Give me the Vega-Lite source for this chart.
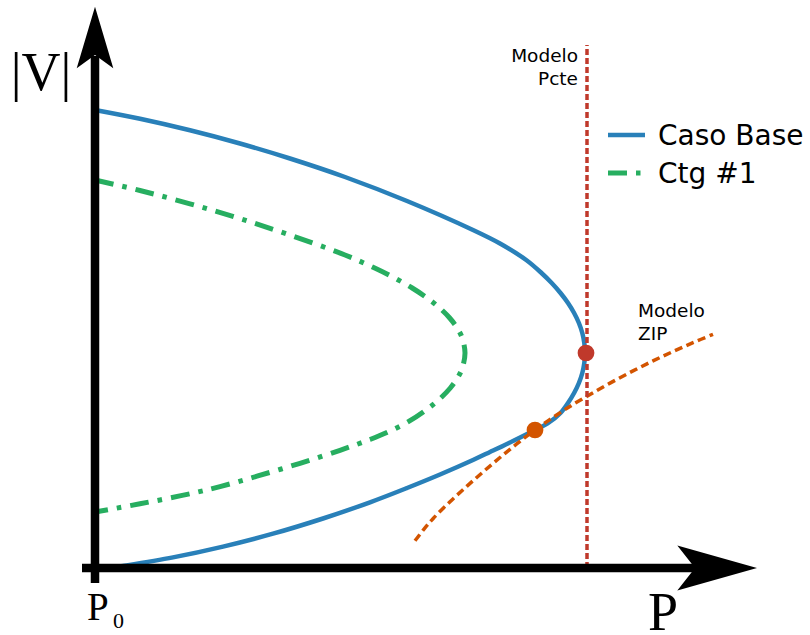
{
  "$schema": "https://vega.github.io/schema/vega-lite/v6.json",
  "width": 810,
  "height": 635,
  "padding": 0,
  "autosize": {"type": "none"},
  "background": "white",
  "config": {"view": {"stroke": null}},
  "datasets": {
    "base": [
      {"i": 0, "P": 0.000, "V": 4.580},
      {"i": 1, "P": 0.450, "V": 4.492},
      {"i": 2, "P": 0.950, "V": 4.377},
      {"i": 3, "P": 1.450, "V": 4.245},
      {"i": 4, "P": 1.950, "V": 4.095},
      {"i": 5, "P": 2.500, "V": 3.910},
      {"i": 6, "P": 3.120, "V": 3.670},
      {"i": 7, "P": 3.780, "V": 3.380},
      {"i": 8, "P": 4.050, "V": 3.245},
      {"i": 9, "P": 4.312, "V": 3.080},
      {"i": 10, "P": 4.465, "V": 2.950},
      {"i": 11, "P": 4.567, "V": 2.850},
      {"i": 12, "P": 4.655, "V": 2.750},
      {"i": 13, "P": 4.730, "V": 2.650},
      {"i": 14, "P": 4.791, "V": 2.550},
      {"i": 15, "P": 4.839, "V": 2.450},
      {"i": 16, "P": 4.873, "V": 2.350},
      {"i": 17, "P": 4.893, "V": 2.250},
      {"i": 18, "P": 4.900, "V": 2.150},
      {"i": 19, "P": 4.893, "V": 2.050},
      {"i": 20, "P": 4.873, "V": 1.950},
      {"i": 21, "P": 4.839, "V": 1.850},
      {"i": 22, "P": 4.791, "V": 1.750},
      {"i": 23, "P": 4.730, "V": 1.650},
      {"i": 24, "P": 4.655, "V": 1.550},
      {"i": 25, "P": 4.540, "V": 1.455},
      {"i": 26, "P": 4.400, "V": 1.380},
      {"i": 27, "P": 4.180, "V": 1.270},
      {"i": 28, "P": 3.950, "V": 1.160},
      {"i": 29, "P": 3.780, "V": 1.080},
      {"i": 30, "P": 3.450, "V": 0.935},
      {"i": 31, "P": 3.120, "V": 0.800},
      {"i": 32, "P": 2.750, "V": 0.657},
      {"i": 33, "P": 2.280, "V": 0.495},
      {"i": 34, "P": 1.780, "V": 0.343},
      {"i": 35, "P": 1.280, "V": 0.214},
      {"i": 36, "P": 0.780, "V": 0.106},
      {"i": 37, "P": 0.280, "V": 0.020},
      {"i": 38, "P": 0.170, "V": 0.003}
    ],
    "ctg": [
      {"i": 0, "P": 0.000, "V": 3.880},
      {"i": 1, "P": 0.450, "V": 3.775},
      {"i": 2, "P": 0.950, "V": 3.642},
      {"i": 3, "P": 1.450, "V": 3.494},
      {"i": 4, "P": 1.950, "V": 3.329},
      {"i": 5, "P": 2.500, "V": 3.130},
      {"i": 6, "P": 2.797, "V": 3.000},
      {"i": 7, "P": 2.997, "V": 2.900},
      {"i": 8, "P": 3.172, "V": 2.800},
      {"i": 9, "P": 3.322, "V": 2.700},
      {"i": 10, "P": 3.447, "V": 2.600},
      {"i": 11, "P": 3.547, "V": 2.500},
      {"i": 12, "P": 3.622, "V": 2.400},
      {"i": 13, "P": 3.672, "V": 2.300},
      {"i": 14, "P": 3.700, "V": 2.150},
      {"i": 15, "P": 3.673, "V": 2.000},
      {"i": 16, "P": 3.625, "V": 1.900},
      {"i": 17, "P": 3.553, "V": 1.800},
      {"i": 18, "P": 3.457, "V": 1.700},
      {"i": 19, "P": 3.337, "V": 1.600},
      {"i": 20, "P": 3.150, "V": 1.473},
      {"i": 21, "P": 2.950, "V": 1.369},
      {"i": 22, "P": 2.750, "V": 1.285},
      {"i": 23, "P": 2.450, "V": 1.177},
      {"i": 24, "P": 2.050, "V": 1.047},
      {"i": 25, "P": 1.620, "V": 0.918},
      {"i": 26, "P": 1.250, "V": 0.814},
      {"i": 27, "P": 0.950, "V": 0.742},
      {"i": 28, "P": 0.450, "V": 0.642},
      {"i": 29, "P": 0.000, "V": 0.560}
    ],
    "zip": [
      {"i": 0, "P": 3.20, "V": 0.272},
      {"i": 1, "P": 3.29, "V": 0.389},
      {"i": 2, "P": 3.38, "V": 0.493},
      {"i": 3, "P": 3.55, "V": 0.663},
      {"i": 4, "P": 3.72, "V": 0.819},
      {"i": 5, "P": 3.88, "V": 0.960},
      {"i": 6, "P": 4.05, "V": 1.105},
      {"i": 7, "P": 4.22, "V": 1.243},
      {"i": 8, "P": 4.40, "V": 1.380},
      {"i": 9, "P": 4.56, "V": 1.492},
      {"i": 10, "P": 4.72, "V": 1.598},
      {"i": 11, "P": 4.92, "V": 1.718},
      {"i": 12, "P": 5.15, "V": 1.849},
      {"i": 13, "P": 5.38, "V": 1.971},
      {"i": 14, "P": 5.58, "V": 2.071},
      {"i": 15, "P": 5.78, "V": 2.165},
      {"i": 16, "P": 5.98, "V": 2.253},
      {"i": 17, "P": 6.18, "V": 2.337}
    ]
  },
  "encoding": {
    "x": {"field": "P", "type": "quantitative", "axis": null, "scale": {"domain": [-0.95, 7.15], "nice": false, "zero": false}},
    "y": {"field": "V", "type": "quantitative", "axis": null, "scale": {"domain": [-0.67, 5.68], "nice": false, "zero": false}}
  },
  "layer": [
    {
      "data": {"name": "ctg"},
      "mark": {"type": "line", "color": "#27ae60", "strokeWidth": 5, "strokeDash": [19, 9, 4.5, 9], "interpolate": "catmull-rom", "strokeCap": "butt"},
      "encoding": {"order": {"field": "i", "type": "quantitative"}}
    },
    {
      "data": {"name": "base"},
      "mark": {"type": "line", "color": "#2980b9", "strokeWidth": 4.5, "interpolate": "catmull-rom"},
      "encoding": {"order": {"field": "i", "type": "quantitative"}}
    },
    {
      "data": {"name": "zip"},
      "mark": {"type": "line", "color": "#d35400", "strokeWidth": 3.5, "strokeDash": [8, 4.5], "interpolate": "catmull-rom"},
      "encoding": {"order": {"field": "i", "type": "quantitative"}}
    },
    {
      "data": {"values": [{"P": 4.92, "V": 0.0, "P2": 4.92, "V2": 5.23}]},
      "mark": {"type": "rule", "color": "#c0392b", "strokeWidth": 3.5, "strokeDash": [6, 3]},
      "encoding": {"x2": {"field": "P2"}, "y2": {"field": "V2"}}
    },
    {
      "data": {"values": [{"P": 4.91, "V": 2.15, "kind": "Pcte"}]},
      "mark": {"type": "point", "filled": true, "color": "#c0392b", "opacity": 1, "size": 280, "strokeWidth": 0}
    },
    {
      "data": {"values": [{"P": 4.40, "V": 1.38, "kind": "ZIP"}]},
      "mark": {"type": "point", "filled": true, "color": "#d35400", "opacity": 1, "size": 280, "strokeWidth": 0}
    },
    {
      "data": {"values": [
        {"P": 0.0, "V": -0.15, "P2": 0.0, "V2": 5.12},
        {"P": -0.13, "V": 0.0, "P2": 6.01, "V2": 0.0}
      ]},
      "mark": {"type": "rule", "color": "black", "strokeWidth": 8.5},
      "encoding": {"x2": {"field": "P2"}, "y2": {"field": "V2"}}
    },
    {
      "data": {"values": [{"P": 0.0, "V": 5.305}]},
      "mark": {"type": "point", "shape": "M0,-1L0.594,1L0,0.568L-0.594,1Z", "size": 3795, "filled": true, "color": "black", "opacity": 1, "strokeWidth": 0}
    },
    {
      "data": {"values": [{"P": 6.2215, "V": 0.0}]},
      "mark": {"type": "point", "shape": "M1,0L-1,-0.565L-0.556,0L-1,0.565Z", "size": 6352, "filled": true, "color": "black", "opacity": 1, "strokeWidth": 0}
    },
    {
      "data": {"values": [{"P": 5.13, "V": 4.33, "P2": 5.50, "V2": 4.33}]},
      "mark": {"type": "rule", "color": "#2980b9", "strokeWidth": 4.5},
      "encoding": {"x2": {"field": "P2"}, "y2": {"field": "V2"}}
    },
    {
      "data": {"values": [{"P": 5.13, "V": 3.95, "P2": 5.50, "V2": 3.95}]},
      "mark": {"type": "rule", "color": "#27ae60", "strokeWidth": 5, "strokeDash": [19, 9, 4.5, 9]},
      "encoding": {"x2": {"field": "P2"}, "y2": {"field": "V2"}}
    },
    {
      "data": {"values": [
        {"P": 5.63, "V": 4.23, "label": "Caso Base"},
        {"P": 5.63, "V": 3.85, "label": "Ctg #1"}
      ]},
      "mark": {"type": "text", "font": "DejaVu Sans", "fontSize": 28, "align": "left", "baseline": "alphabetic", "color": "black"},
      "encoding": {"text": {"field": "label"}}
    },
    {
      "data": {"values": [
        {"P": 4.83, "V": 5.06, "label": "Modelo"},
        {"P": 4.83, "V": 4.83, "label": "Pcte"}
      ]},
      "mark": {"type": "text", "font": "DejaVu Sans", "fontSize": 18.5, "align": "right", "baseline": "alphabetic", "color": "black"},
      "encoding": {"text": {"field": "label"}}
    },
    {
      "data": {"values": [
        {"P": 5.43, "V": 2.51, "label": "Modelo"},
        {"P": 5.43, "V": 2.28, "label": "ZIP"}
      ]},
      "mark": {"type": "text", "font": "DejaVu Sans", "fontSize": 18.5, "align": "left", "baseline": "alphabetic", "color": "black"},
      "encoding": {"text": {"field": "label"}}
    },
    {
      "data": {"values": [{"P": -0.54, "V": 4.78, "label": "|V|"}]},
      "mark": {"type": "text", "font": "Liberation Serif", "fontSize": 54, "align": "center", "baseline": "alphabetic", "color": "black"},
      "encoding": {"text": {"field": "label"}}
    },
    {
      "data": {"values": [{"P": 5.53, "V": -0.62, "label": "P"}]},
      "mark": {"type": "text", "font": "Liberation Serif", "fontSize": 54, "align": "left", "baseline": "alphabetic", "color": "black"},
      "encoding": {"text": {"field": "label"}}
    },
    {
      "data": {"values": [{"P": -0.08, "V": -0.52, "label": "P"}]},
      "mark": {"type": "text", "font": "Liberation Serif", "fontSize": 39, "align": "left", "baseline": "alphabetic", "color": "black"},
      "encoding": {"text": {"field": "label"}}
    },
    {
      "data": {"values": [{"P": 0.18, "V": -0.60, "label": "0"}]},
      "mark": {"type": "text", "font": "Liberation Serif", "fontSize": 22, "align": "left", "baseline": "alphabetic", "color": "black"},
      "encoding": {"text": {"field": "label"}}
    }
  ]
}
